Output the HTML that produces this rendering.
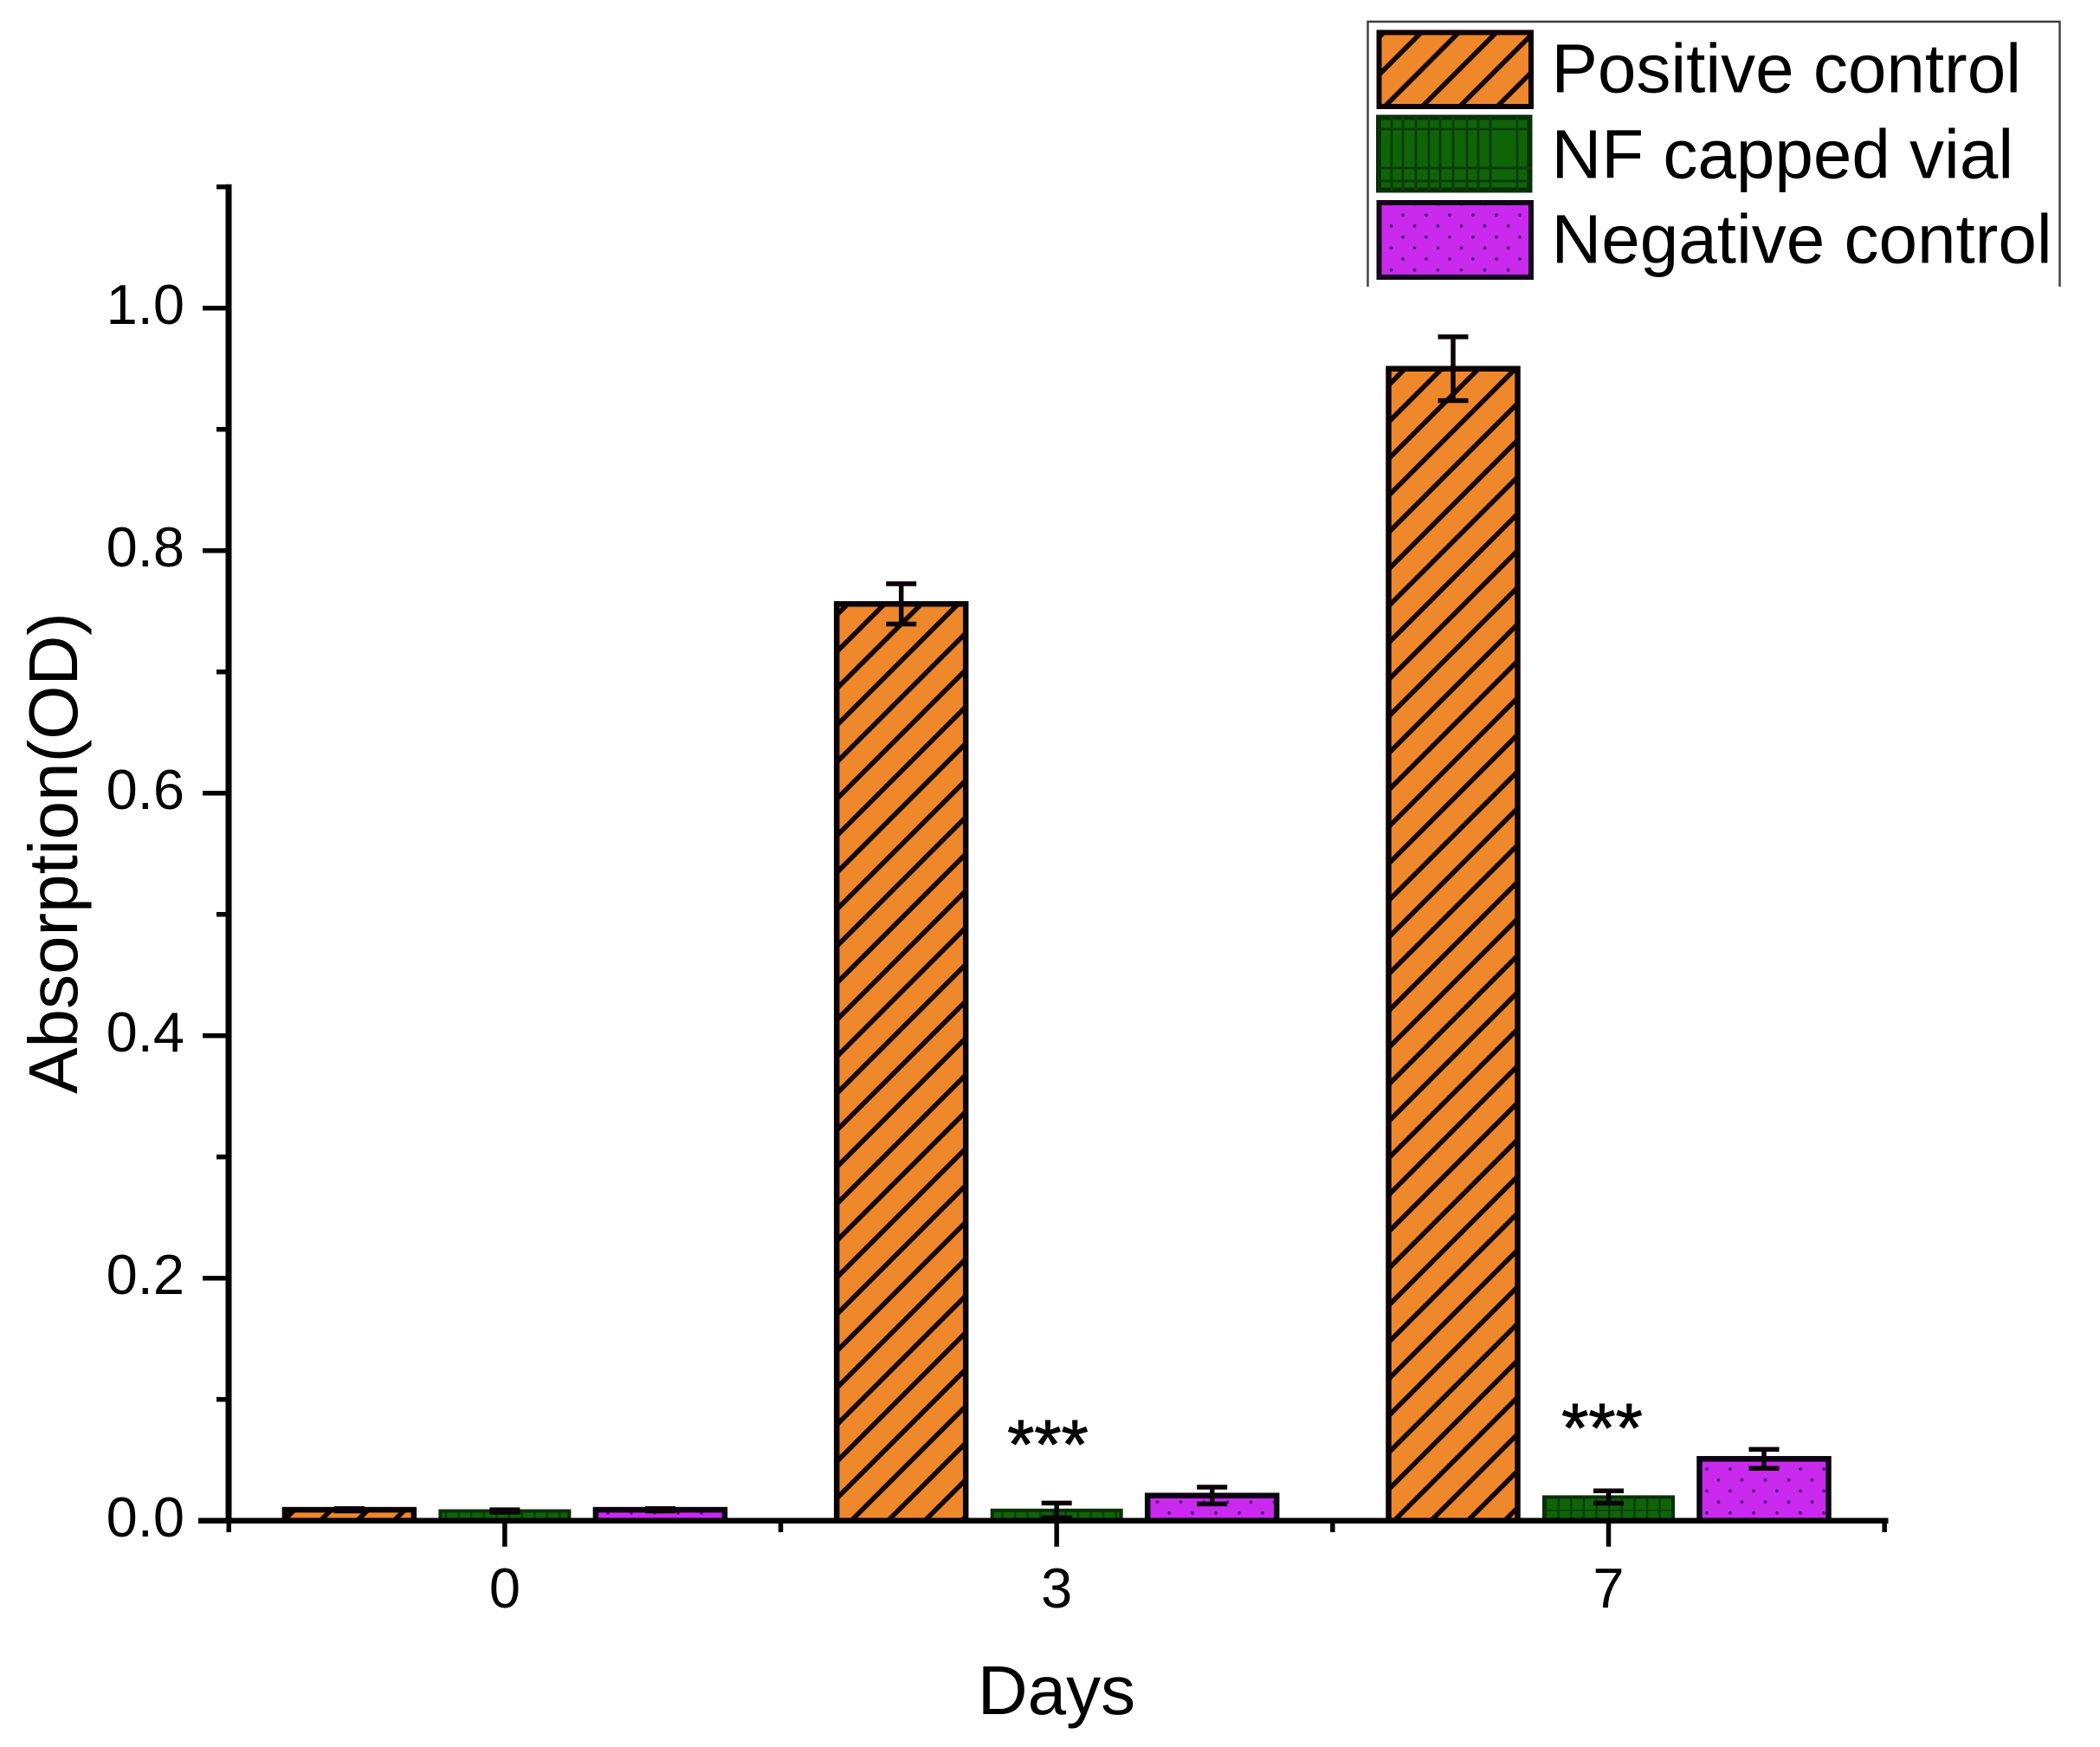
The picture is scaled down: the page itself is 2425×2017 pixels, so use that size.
<!DOCTYPE html>
<html lang="en">
<head>
<meta charset="utf-8">
<title>Absorption over days</title>
<style>
  html,body{margin:0;padding:0;background:#fff;}
  svg{display:block;font-family:"Liberation Sans",Arial,sans-serif;}
</style>
</head>
<body>
<svg id="chart" xmlns="http://www.w3.org/2000/svg" width="2425" height="2017" viewBox="0 0 2425 2017">
  <defs>
    <pattern id="hatch-0" patternUnits="userSpaceOnUse" width="42.5" height="42.5" patternTransform="translate(370 1755.7)">
      <rect width="42.5" height="42.5" fill="#ee882b"/>
      <path d="M-10 52.5L52.5 -10M-10 10L10 -10M32.5 52.5L52.5 32.5" stroke="#120404" stroke-width="5.6" fill="none"/>
    </pattern>
    <pattern id="hatch-1" patternUnits="userSpaceOnUse" width="42.5" height="42.5" patternTransform="translate(983 1755.7)">
      <rect width="42.5" height="42.5" fill="#ee882b"/>
      <path d="M-10 52.5L52.5 -10M-10 10L10 -10M32.5 52.5L52.5 32.5" stroke="#120404" stroke-width="5.6" fill="none"/>
    </pattern>
    <pattern id="hatch-2" patternUnits="userSpaceOnUse" width="42.5" height="42.5" patternTransform="translate(1610 1755.7)">
      <rect width="42.5" height="42.5" fill="#ee882b"/>
      <path d="M-10 52.5L52.5 -10M-10 10L10 -10M32.5 52.5L52.5 32.5" stroke="#120404" stroke-width="5.6" fill="none"/>
    </pattern>
    <pattern id="hatch-legend" patternUnits="userSpaceOnUse" width="43.3" height="43.3" patternTransform="translate(1598 124)">
      <rect width="43.3" height="43.3" fill="#ee882b"/>
      <path d="M-10 53.3L53.3 -10M-10 10L10 -10M33.3 53.3L53.3 33.3" stroke="#120404" stroke-width="5.6" fill="none"/>
    </pattern>
    <pattern id="grid-green" patternUnits="userSpaceOnUse" width="14.6" height="42" patternTransform="translate(1784 1743)">
      <rect width="14.6" height="42" fill="#0e6407"/>
      <path d="M1 0V42M0 0H14.6" stroke="#0a3c0a" stroke-width="2.8" fill="none"/>
    </pattern>
    <pattern id="dots-purple" patternUnits="userSpaceOnUse" width="27" height="25.4" patternTransform="translate(1965 1690)">
      <rect width="27" height="25.4" fill="#c92aee"/>
      <circle cx="6" cy="6" r="1.8" fill="#4a0a78"/>
      <circle cx="19.5" cy="18.7" r="1.8" fill="#4a0a78"/>
    </pattern>
  </defs>

  <rect width="2425" height="2017" fill="#ffffff"/>

  <g id="bars"></g>
  <g id="axes"></g>

  <text transform="translate(89 985) rotate(-90)" text-anchor="middle" font-size="80" fill="#000">Absorption(OD)</text>
  <text x="1220" y="1979" text-anchor="middle" font-size="80" fill="#000">Days</text>

  <text x="1210" y="1695" text-anchor="middle" font-size="80" fill="#000" stroke="#000" stroke-width="1">***</text>
  <text x="1850" y="1676" text-anchor="middle" font-size="80" fill="#000" stroke="#000" stroke-width="1">***</text>

  <g>
    <path d="M1579.5 331V25H2378.5V331" fill="none" stroke="#3c3c3c" stroke-width="2.4"/>
    <g>
      <rect x="1592.5" y="37.5" width="175.5" height="85.5" fill="url(#hatch-legend)" stroke="#0d0205" stroke-width="6"/>
      <text x="1791.5" y="106.7" font-size="80" fill="#000">Positive control</text>
    </g>
    <g>
      <rect x="1592" y="135.5" width="174.5" height="84" fill="#0e6407" stroke="#0a300a" stroke-width="6"/>
      <path d="M1607 135V220M1620 135V220M1635 135V220M1650 135V220M1663 135V220M1678 135V220M1694 135V220M1707 135V220M1721 135V220M1752 135V220M1592 149H1767M1592 194H1767M1592 209H1767" stroke="#0a3c0a" stroke-width="2.8" fill="none"/>
      <text x="1791.5" y="205.7" font-size="80" fill="#000">NF capped vial</text>
    </g>
    <g>
      <rect x="1592.5" y="234" width="175.5" height="86" fill="url(#dots-purple)" stroke="#14041c" stroke-width="6"/>
      <text x="1791.5" y="303.3" font-size="80" fill="#000">Negative control</text>
    </g>
  </g>
</svg>

<script>
// Chart data
const categories = ["0", "3", "7"];
const positiveControl = [0.009, 0.756, 0.950];
const nfCappedVial = [0.008, 0.0085, 0.0195];
const negativeControl = [0.009, 0.0207, 0.051];
const positiveError = [0.001, 0.0166, 0.0263];
const nfError = [0.001, 0.006, 0.0051];
const negativeError = [0.001, 0.0069, 0.0078];
const yTickLabels = ["0.0", "0.2", "0.4", "0.6", "0.8", "1.0"];
const yMinorTicks = [0.1, 0.3, 0.5, 0.7, 0.9, 1.1];

// Axis functions
const NS = "http://www.w3.org/2000/svg";
function yScale(v) { return 1755.7 - v * 1400; }
function xScale(i) { return 582.9 + i * 637.3; }
const seriesOffset = 179.5;
const barWidth = 149;

function mk(tag, attrs, parent) {
  const el = document.createElementNS(NS, tag);
  for (const k in attrs) el.setAttribute(k, attrs[k]);
  parent.appendChild(el);
  return el;
}

const barsG = document.getElementById("bars");
const axesG = document.getElementById("axes");

function drawSeries(values, errors, seriesIndex, seriesName, fillFor, strokeColor, strokeWidth) {
  values.forEach(function (v, i) {
    const cx = xScale(i) + (seriesIndex - 1) * seriesOffset;
    const top = yScale(v);
    const rect = mk("rect", {
      x: cx - barWidth / 2, y: top, width: barWidth, height: Math.max(0, yScale(0) - top),
      fill: fillFor(i), stroke: strokeColor, "stroke-width": strokeWidth
    }, barsG);
    
    

    const hi = yScale(v + errors[i]);
    const lo = yScale(v - errors[i]);
    const err = mk("path", {
      d: "M" + (cx - 17.5) + " " + hi + "H" + (cx + 17.5) +
         "M" + cx + " " + hi + "V" + lo +
         "M" + (cx - 17.5) + " " + lo + "H" + (cx + 17.5),
      fill: "none", stroke: "#0a0208", "stroke-width": 5.5
    }, barsG);
    
    
  });
}

drawSeries(positiveControl, positiveError, 0, "positive-control", function (i) { return "url(#hatch-" + i + ")"; }, "#0a0205", 6.5);
drawSeries(nfCappedVial, nfError, 1, "nf-capped-vial", function () { return "url(#grid-green)"; }, "#0a300a", 4);
drawSeries(negativeControl, negativeError, 2, "negative-control", function () { return "url(#dots-purple)"; }, "#0a0210", 6.5);

// Y axis
const yLine = mk("path", { d: "M264 " + (yScale(1.1) - 3) + "V" + (yScale(0) + 3), stroke: "#000", "stroke-width": 7, fill: "none" }, axesG);



yTickLabels.forEach(function (label) {
  const v = parseFloat(label);
  const y = yScale(v);
  const tick = mk("path", { d: "M234 " + y + "H264", stroke: "#000", "stroke-width": 5.5, fill: "none" }, axesG);
  
  
  const t = mk("text", { x: 213, y: y + 18.5, "text-anchor": "end", "font-size": 65, fill: "#000" }, axesG);
  t.textContent = label;
  
  
});

yMinorTicks.forEach(function (v) {
  const tick = mk("path", { d: "M250 " + yScale(v) + "H264", stroke: "#000", "stroke-width": 5.5, fill: "none" }, axesG);
  
  
});

// X axis
const xLine = mk("path", { d: "M229 " + yScale(0) + "H" + (xScale(categories.length - 1) + 323), stroke: "#000", "stroke-width": 6.5, fill: "none" }, axesG);



categories.forEach(function (label, i) {
  const x = xScale(i);
  const tick = mk("path", { d: "M" + x + " " + yScale(0) + "V1785.7", stroke: "#000", "stroke-width": 5.5, fill: "none" }, axesG);
  
  
  const t = mk("text", { x: x, y: 1856, "text-anchor": "middle", "font-size": 65, fill: "#000" }, axesG);
  t.textContent = label;
  
  
});

for (let i = -0.5; i <= categories.length - 0.5; i += 1) {
  const x = xScale(i);
  const tick = mk("path", { d: "M" + x + " " + yScale(0) + "V1769", stroke: "#000", "stroke-width": 5.5, fill: "none" }, axesG);
  
  
}
</script>
</body>
</html>
